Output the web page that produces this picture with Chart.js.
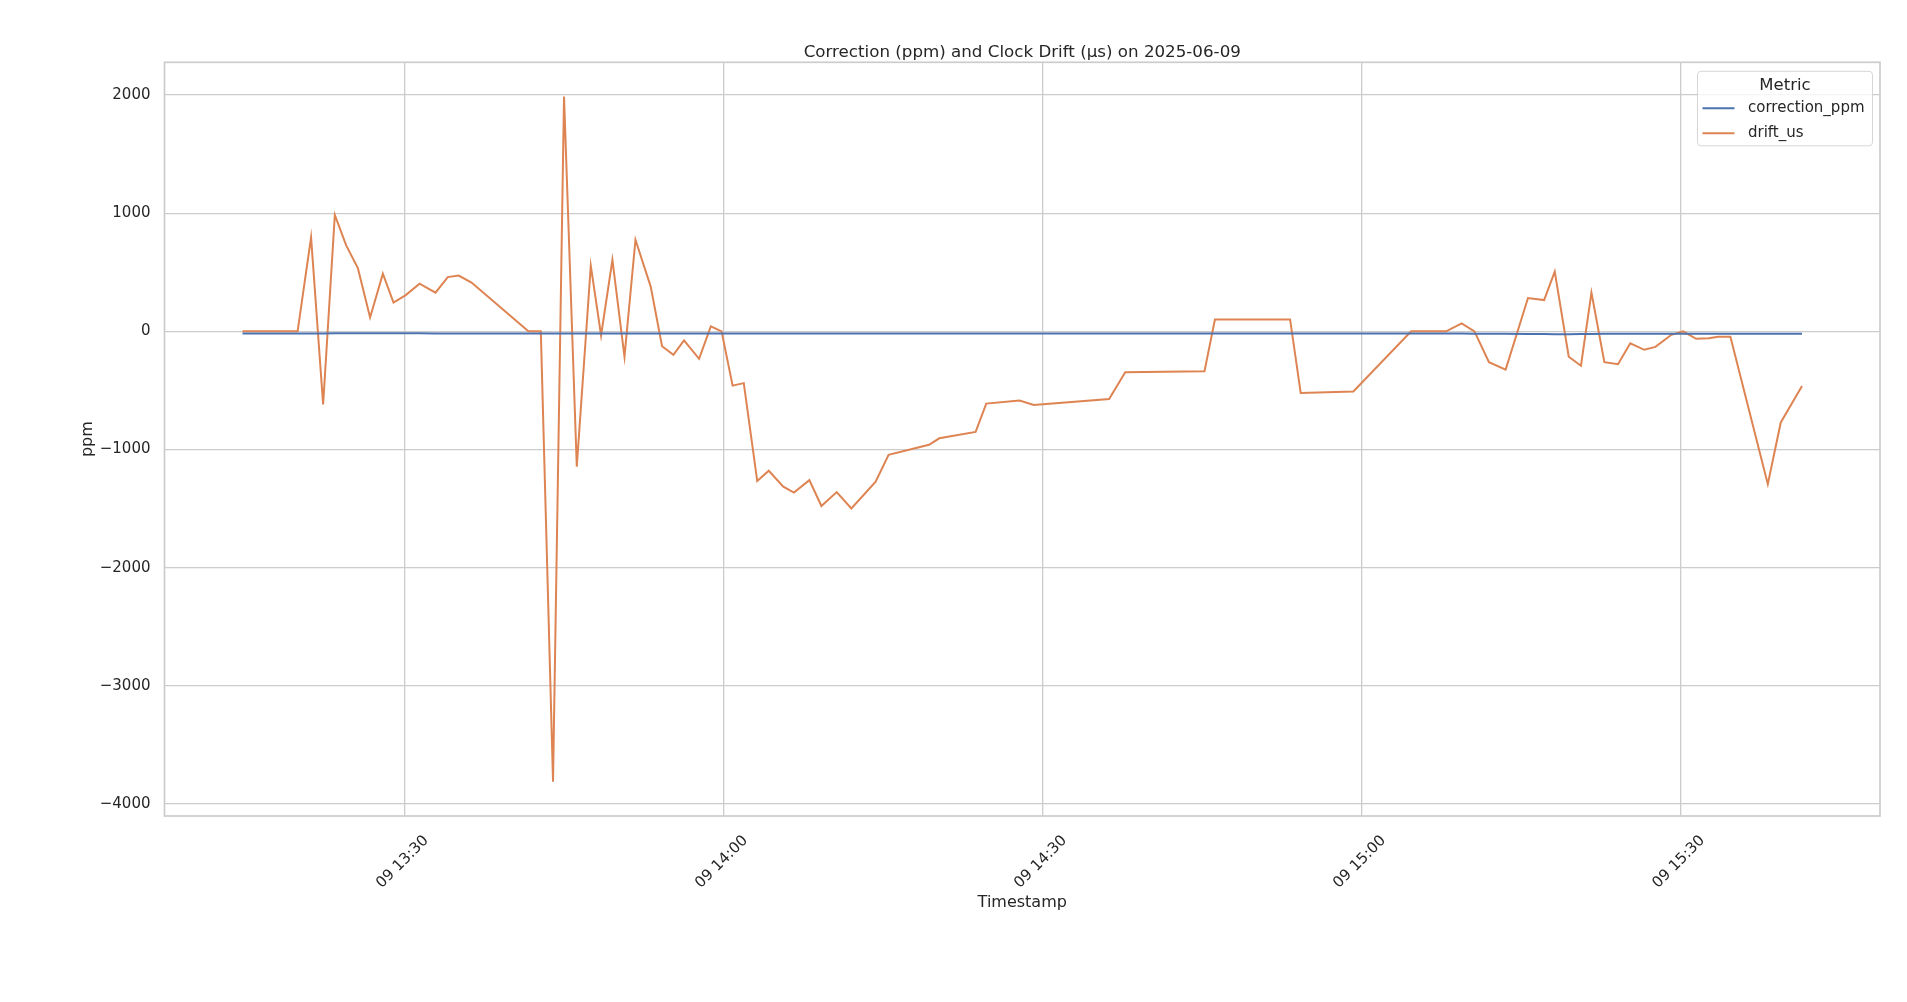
<!DOCTYPE html>
<html>
<head>
<meta charset="utf-8">
<script src="https://cdn.jsdelivr.net/npm/chart.js@4/dist/chart.umd.min.js"></script>
<style>
  html, body { margin: 0; padding: 0; background: #ffffff; }
  #wrap { width: 1907px; height: 1002px; position: relative; }
  canvas { display: block; }
</style>
</head>
<body>
<div id="wrap"><canvas id="c" width="1907" height="1002"></canvas></div>
<script>
// ---- DATA ----
const chartTitle = 'Correction (ppm) and Clock Drift (\u00b5s) on 2025-06-09';
const xAxisTitle = 'Timestamp';
const yAxisTitle = 'ppm';
const legendTitle = 'Metric';
const seriesNames = ['correction_ppm', 'drift_us'];

const timestamps = [
  '13:14:47','13:19:58','13:21:14','13:22:22','13:23:28','13:24:32','13:25:38','13:26:47','13:27:59','13:28:59',
  '13:30:08','13:31:26','13:32:56','13:34:05','13:35:07','13:36:19','13:41:40','13:42:50','13:43:59','13:45:01',
  '13:46:13','13:47:32','13:48:30','13:49:34','13:50:42','13:51:44','13:53:10','13:54:14','13:55:18','13:56:18',
  '13:57:43','13:58:49','13:59:50','14:00:52','14:01:55','14:03:11','14:04:16','14:05:38','14:06:38','14:08:05',
  '14:09:13','14:10:39','14:12:02','14:14:19','14:15:32','14:19:20','14:20:18','14:23:43','14:24:43','14:27:51',
  '14:29:11','14:36:16','14:37:47','14:45:14','14:46:13','14:53:17','14:54:17','14:59:14','15:04:40','15:07:57',
  '15:09:25','15:10:37','15:11:59','15:13:33','15:15:39','15:17:10','15:18:10','15:19:29','15:20:38','15:21:37',
  '15:22:50','15:24:07','15:25:16','15:26:35','15:27:38','15:29:08','15:30:14','15:31:28','15:32:39','15:33:32',
  '15:34:41','15:38:12','15:39:25','15:41:25'
];

const driftUs = [
  0, 0, 796, -619, 985, 728, 535, 118, 488, 244,
  307, 404, 328, 459, 472, 413, 0, 0, -3811, 1987,
  -1145, 556, -34, 606, -215, 775, 379, -126, -198, -76,
  -232, 42, 0, -459, -438, -1267, -1179, -1314, -1364, -1259,
  -1478, -1360, -1499, -1272, -1044, -960, -905, -851, -611, -585,
  -623, -573, -345, -337, 101, 101, -522, -509, 0, 0,
  67, 0, -261, -324, 282, 265, 505, -215, -291, 328,
  -261, -278, -101, -156, -131, -29, 0, -63, -59, -46,
  -46, -1293, -771, -463
];

const correctionPpm = [
  -17, -17, -17, -17, -16, -16, -16, -16, -16, -16,
  -16, -16, -17, -17, -17, -17, -17, -17, -18, -18,
  -18, -18, -18, -18, -18, -18, -18, -18, -18, -18,
  -18, -18, -18, -18, -18, -18, -18, -18, -18, -18,
  -18, -18, -18, -18, -18, -18, -18, -18, -18, -18,
  -18, -18, -18, -18, -18, -18, -18, -18, -19, -19,
  -19, -20, -20, -21, -22, -23, -24, -24, -23, -22,
  -21, -21, -20, -20, -20, -20, -20, -20, -20, -20,
  -20, -20, -20, -20
];

const xTickTimes = ['13:30', '14:00', '14:30', '15:00', '15:30'];
const xTickLabels = ['09 13:30', '09 14:00', '09 14:30', '09 15:00', '09 15:30'];
const yTickValues = [-4000, -3000, -2000, -1000, 0, 1000, 2000];
const yTickLabels = ['\u22124000', '\u22123000', '\u22122000', '\u22121000', '0', '1000', '2000'];

// ---- helpers ----
function toMinutes(s) {
  const p = s.split(':').map(Number);
  return p[0] * 60 + p[1] + (p[2] || 0) / 60;
}
const xs = timestamps.map(toMinutes);
const xTickValues = xTickTimes.map(toMinutes);
const xMinData = Math.min(...xs), xMaxData = Math.max(...xs);
const xPad = (xMaxData - xMinData) * 0.05;
const allY = driftUs.concat(correctionPpm);
const yMinData = Math.min(...allY), yMaxData = Math.max(...allY);
const yPad = (yMaxData - yMinData) * 0.05;

const FONT = "'DejaVu Sans', 'Liberation Sans', sans-serif";
const TEXT = '#262626';
const GRID = '#cccccc';
const colors = ['#4c72b0', '#dd8452'];

Chart.defaults.font.family = FONT;
Chart.defaults.color = TEXT;

const framePlugin = {
  id: 'frame',
  beforeDatasetsDraw(chart) {
    const a = chart.chartArea, ctx = chart.ctx;
    ctx.save();
    ctx.strokeStyle = GRID;
    ctx.lineWidth = 1.7;
    ctx.strokeRect(a.left, a.top, a.right - a.left, a.bottom - a.top);
    ctx.restore();
  }
};

// Title centred over the plot area (as matplotlib's axes title)
const axesTitlePlugin = {
  id: 'axesTitle',
  afterDraw(chart) {
    const a = chart.chartArea, ctx = chart.ctx;
    ctx.save();
    ctx.fillStyle = TEXT;
    ctx.font = "16.7px " + FONT;
    ctx.textAlign = 'center';
    ctx.textBaseline = 'middle';
    ctx.fillText(chartTitle, (a.left + a.right) / 2, a.top - 9.5);
    ctx.restore();
  }
};

const legendPlugin = {
  id: 'mplLegend',
  afterDraw(chart) {
    const a = chart.chartArea, ctx = chart.ctx;
    const w = 175, h = 74.5;
    const x = a.right - 7.5 - w, y = a.top + 9;
    ctx.save();
    ctx.beginPath();
    const r = 3.5;
    ctx.moveTo(x + r, y);
    ctx.lineTo(x + w - r, y); ctx.quadraticCurveTo(x + w, y, x + w, y + r);
    ctx.lineTo(x + w, y + h - r); ctx.quadraticCurveTo(x + w, y + h, x + w - r, y + h);
    ctx.lineTo(x + r, y + h); ctx.quadraticCurveTo(x, y + h, x, y + h - r);
    ctx.lineTo(x, y + r); ctx.quadraticCurveTo(x, y, x + r, y);
    ctx.closePath();
    ctx.fillStyle = 'rgba(255,255,255,0.8)';
    ctx.fill();
    ctx.strokeStyle = 'rgba(204,204,204,0.8)';
    ctx.lineWidth = 1;
    ctx.stroke();
    ctx.fillStyle = TEXT;
    ctx.textBaseline = 'middle';
    ctx.textAlign = 'center';
    ctx.font = "16.5px " + FONT;
    ctx.fillText(legendTitle, x + w / 2, y + 14);
    ctx.textAlign = 'left';
    ctx.font = "15px " + FONT;
    chart.data.datasets.forEach((ds, i) => {
      const yy = y + 37 + i * 25;
      ctx.strokeStyle = ds.borderColor;
      ctx.lineWidth = 2;
      ctx.beginPath();
      ctx.moveTo(x + 5, yy);
      ctx.lineTo(x + 37, yy);
      ctx.stroke();
      ctx.fillStyle = TEXT;
      ctx.fillText(ds.label, x + 50.5, yy);
    });
    ctx.restore();
  }
};

const datasets = [correctionPpm, driftUs].map((vals, i) => ({
  label: seriesNames[i],
  data: xs.map((x, j) => ({ x: x, y: vals[j] })),
  borderColor: colors[i],
  backgroundColor: colors[i],
  borderWidth: 2,
  pointRadius: 0,
  tension: 0,
  fill: false
}));

new Chart(document.getElementById('c'), {
  type: 'line',
  data: { datasets: datasets },
  plugins: [framePlugin, axesTitlePlugin, legendPlugin],
  options: {
    responsive: false,
    animation: false,
    events: [],
    layout: { padding: { left: 0, right: 27, top: 62.3, bottom: 88 } },
    plugins: {
      legend: { display: false },
      tooltip: { enabled: false },
      title: { display: false }
    },
    scales: {
      x: {
        type: 'linear',
        min: xMinData - xPad,
        max: xMaxData + xPad,
        afterBuildTicks: (s) => { s.ticks = xTickValues.map(v => ({ value: v })); },
        afterFit: (s) => { s.height = 98; },
        grid: { color: GRID, lineWidth: 1.3, drawTicks: false },
        border: { display: false },
        ticks: {
          autoSkip: false, minRotation: 45, maxRotation: 45,
          padding: 16, labelOffset: 22, color: TEXT,
          font: { size: 15, family: FONT },
          callback: (v) => { const i = xTickValues.findIndex(t => Math.abs(t - v) < 1e-6); return i >= 0 ? xTickLabels[i] : ''; }
        },
        title: { display: true, text: xAxisTitle, color: TEXT, font: { size: 16, family: FONT }, padding: { top: 0, bottom: 2 } }
      },
      y: {
        type: 'linear',
        min: yMinData - yPad,
        max: yMaxData + yPad,
        afterBuildTicks: (s) => { s.ticks = yTickValues.map(v => ({ value: v })); },
        afterFit: (s) => { s.width = 164.5; },
        grid: { color: GRID, lineWidth: 1.3, drawTicks: false },
        border: { display: false },
        ticks: {
          padding: 14, color: TEXT,
          font: { size: 15, family: FONT },
          callback: (v) => { const i = yTickValues.indexOf(v); return i >= 0 ? yTickLabels[i] : ''; }
        },
        title: { display: true, text: yAxisTitle, color: TEXT, font: { size: 16, family: FONT }, padding: { top: 78.5, bottom: 0 } }
      }
    }
  }
});
</script>
</body>
</html>
